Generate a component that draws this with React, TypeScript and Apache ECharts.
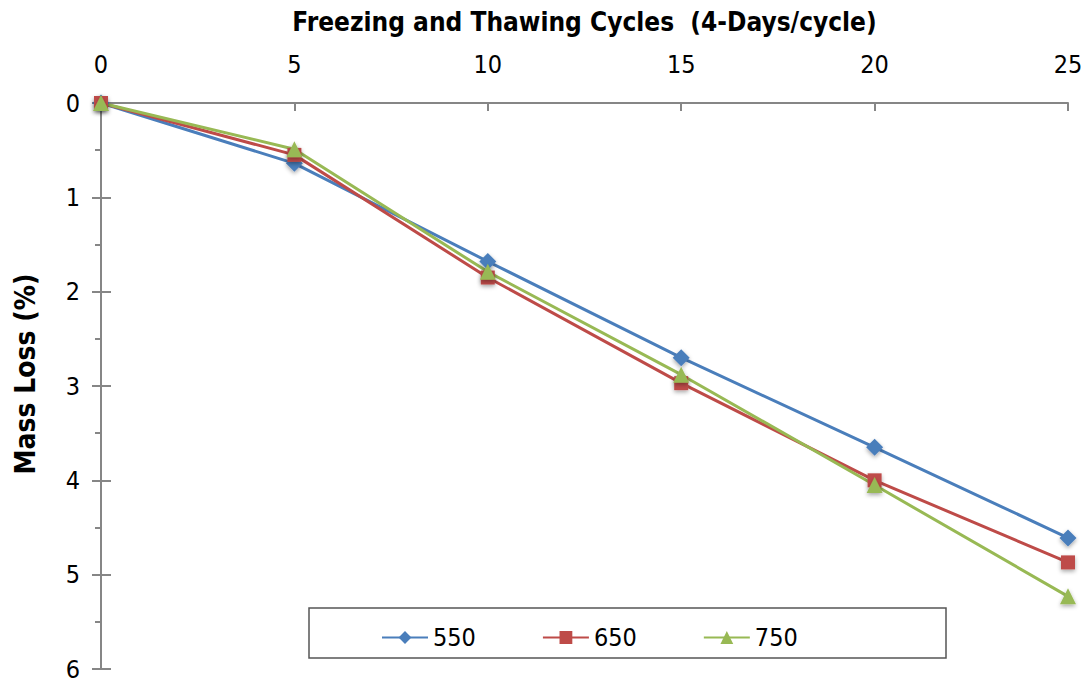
import React, { useEffect, useRef } from "react";
import * as echarts from "echarts";

const cycles = [0, 5, 10, 15, 20, 25];
const s550 = [0, 0.64, 1.68, 2.7, 3.65, 4.61];
const s650 = [0, 0.55, 1.85, 2.97, 4.0, 4.87];
const s750 = [0, 0.49, 1.79, 2.88, 4.05, 5.23];
const seriesNames = ["550", "650", "750"];
const xTitle = "Freezing and Thawing Cycles  (4-Days/cycle)";
const yTitle = "Mass Loss (%)";

const FONT = "'DejaVu Sans Condensed', 'Liberation Sans', sans-serif";
const AXIS_COLOR = "#868686";

export default function App() {
  const ref = useRef<HTMLDivElement>(null);
  useEffect(() => {
    const chart = echarts.init(ref.current!, null, { renderer: "svg" });
    const mk = (vals: number[]) => cycles.map((c, i) => [c, vals[i]]);
    const shadow = { shadowBlur: 4, shadowColor: "rgba(0,0,0,0.35)", shadowOffsetY: 2 };
    chart.setOption({
      animation: false,
      textStyle: { fontFamily: FONT },
      grid: { left: 101, right: 20, top: 103, bottom: 16, outerBoundsMode: "none", containLabel: false },
      xAxis: {
        type: "value",
        position: "top",
        min: 0,
        max: 25,
        interval: 5,
        name: xTitle,
        nameLocation: "middle",
        nameGap: 68,
        nameTextStyle: { fontFamily: FONT, fontSize: 26, fontWeight: "bold", color: "#000" },
        axisLine: { show: true, lineStyle: { color: AXIS_COLOR, width: 2 } },
        axisTick: { show: true, inside: true, length: 8, lineStyle: { color: AXIS_COLOR, width: 2 } },
        axisLabel: { fontFamily: FONT, fontSize: 25, color: "#000", margin: 26 },
        splitLine: { show: false },
      },
      yAxis: [
        {
          type: "value",
          inverse: true,
          min: 0,
          max: 6,
          interval: 1,
          axisLine: { show: true, lineStyle: { color: AXIS_COLOR, width: 2 } },
          axisTick: { show: true, length: 9, lineStyle: { color: AXIS_COLOR, width: 2 } },
          minorTick: { show: true, splitNumber: 2, length: 6, lineStyle: { color: AXIS_COLOR, width: 2 } },
          axisLabel: { fontFamily: FONT, fontSize: 25, color: "#000", margin: 21 },
          splitLine: { show: false },
        },
        {
          type: "value",
          inverse: true,
          min: 0,
          max: 6,
          interval: 1,
          position: "left",
          axisLine: { show: false },
          axisTick: { show: true, inside: true, length: 10, lineStyle: { color: AXIS_COLOR, width: 2 } },
          axisLabel: { show: false },
          splitLine: { show: false },
        },
      ],
      legend: {
        data: seriesNames,
        left: 376,
        top: 620,
        itemWidth: 46,
        itemHeight: 16,
        itemGap: 66,
        textStyle: { fontFamily: FONT, fontSize: 25, color: "#000", padding: [0, 0, 0, 0] },
      },
      graphic: [
        {
          type: "rect",
          shape: { x: 309, y: 608, width: 637, height: 50 },
          style: { fill: "#fff", stroke: "#555", lineWidth: 1.5 },
          z: -1,
          silent: true,
        },
        {
          type: "text",
          x: 25,
          y: 374,
          rotation: Math.PI / 2,
          style: {
            text: yTitle,
            fontFamily: FONT,
            fontSize: 28,
            fontWeight: "bold",
            fill: "#000",
            align: "center",
            verticalAlign: "middle",
          },
          silent: true,
        },
      ],
      series: [
        {
          name: seriesNames[0],
          type: "line",
          data: mk(s550),
          symbol: "diamond",
          symbolSize: 17,
          lineStyle: { color: "#4a7ebb", width: 3 },
          itemStyle: { color: "#4a7ebb", ...shadow },
        },
        {
          name: seriesNames[1],
          type: "line",
          data: mk(s650),
          symbol: "rect",
          symbolSize: 14,
          lineStyle: { color: "#be4b48", width: 3 },
          itemStyle: { color: "#be4b48", ...shadow },
        },
        {
          name: seriesNames[2],
          type: "line",
          data: mk(s750),
          symbol: "triangle",
          symbolSize: 16,
          lineStyle: { color: "#98b954", width: 3 },
          itemStyle: { color: "#98b954", ...shadow },
        },
      ],
    });
    return () => chart.dispose();
  }, []);
  return <div ref={ref} style={{ width: 1088, height: 685, position: "absolute", left: 0, top: 0 }} />;
}
